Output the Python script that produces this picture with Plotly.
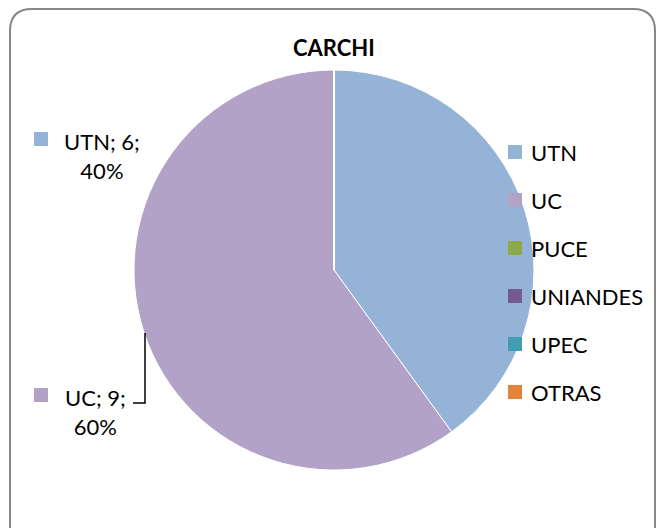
import plotly.graph_objects as go

categories = ["UTN", "UC", "PUCE", "UNIANDES", "UPEC", "OTRAS"]
values = [6, 9, 0, 0, 0, 0]
colors = ["#95B3D7", "#B3A2C7", "#8DAA4B", "#735A93", "#429DB3", "#E2853B"]
title_text = "CARCHI"

# page body has an 8px margin; figure occupies the rest of the 664x528 window
OFF = 8
W, H = 664 - OFF, 528 - OFF
FONT = "Lato"
FS = 22

def px(x):
    return (x - OFF) / W

def py(y):
    return 1 - (y - OFF) / H

fig = go.Figure()
fig.add_trace(go.Pie(
    labels=categories, values=values, sort=False, direction="clockwise", rotation=0,
    marker=dict(colors=colors, line=dict(color="#FFFFFF", width=1)),
    textinfo="none", hoverinfo="label+value+percent", showlegend=False,
    domain=dict(x=[px(134), px(534)], y=[py(470), py(70)]),
))

shapes = []
annotations = []

# frame
r = 22
x0, y0, x1, y1 = 10, 9, 655, 540
path = (f"M {px(x0)},{py(y0 + r)} Q {px(x0)},{py(y0)} {px(x0 + r)},{py(y0)} "
        f"L {px(x1 - r)},{py(y0)} Q {px(x1)},{py(y0)} {px(x1)},{py(y0 + r)} "
        f"L {px(x1)},{py(y1)} L {px(x0)},{py(y1)} Z")
shapes.append(dict(type="path", xref="paper", yref="paper", path=path,
                   line=dict(color="#868686", width=2), fillcolor="rgba(0,0,0,0)", layer="below"))

# title
annotations.append(dict(text=f"<b>{title_text}</b>", x=px(334), y=py(48), xref="paper", yref="paper",
                        showarrow=False, font=dict(family=FONT, size=FS, color="#000000"),
                        xanchor="center", yanchor="middle"))

# legend (manual, built from categories/colors)
leg_y0, leg_dy = 152, 48
for i, (c, col) in enumerate(zip(categories, colors)):
    yc = leg_y0 + i * leg_dy
    shapes.append(dict(type="rect", xref="paper", yref="paper",
                       x0=px(508), x1=px(522), y0=py(yc + 7), y1=py(yc - 7),
                       fillcolor=col, line=dict(width=0)))
    annotations.append(dict(text=c, x=px(529), y=py(yc), xref="paper", yref="paper",
                            showarrow=False, xanchor="left", yanchor="middle",
                            font=dict(family=FONT, size=FS, color="#000000")))

# data labels
total = sum(values)
label_pos = {"UTN": (102, 156, 41, 139), "UC": (95, 412, 41, 395)}
for c, v, col in zip(categories, values, colors):
    if c in label_pos:
        tx, ty, sx, sy = label_pos[c]
        pct = round(v / total * 100)
        annotations.append(dict(text=f"{c}; {v};<br>{pct}%", x=px(tx), y=py(ty), xref="paper", yref="paper",
                                showarrow=False, xanchor="center", yanchor="middle", align="center",
                                font=dict(family=FONT, size=FS, color="#000000")))
        shapes.append(dict(type="rect", xref="paper", yref="paper",
                           x0=px(sx - 7), x1=px(sx + 7), y0=py(sy + 7), y1=py(sy - 7),
                           fillcolor=col, line=dict(width=0)))

# leader line for UC label
shapes.append(dict(type="path", xref="paper", yref="paper",
                   path=f"M {px(145)},{py(333)} L {px(145)},{py(403)} L {px(133)},{py(403)}",
                   line=dict(color="#000000", width=1.5)))

fig.update_layout(
    width=W, height=H, margin=dict(l=0, r=0, t=0, b=0),
    paper_bgcolor="#FFFFFF", plot_bgcolor="#FFFFFF",
    shapes=shapes, annotations=annotations,
)

fig.write_html("out.html")
